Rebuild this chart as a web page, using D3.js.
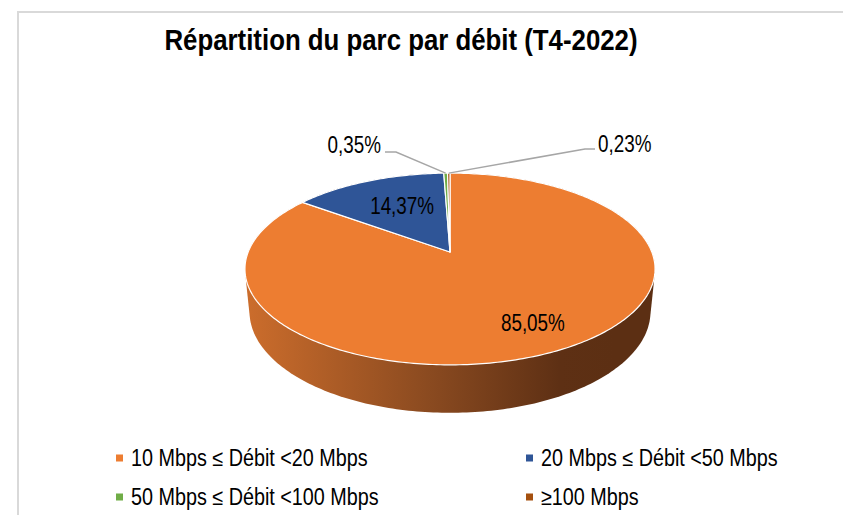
<!DOCTYPE html>
<html>
<head>
<meta charset="utf-8">
<script src="https://cdn.jsdelivr.net/npm/d3@7"></script>
<style>
  html, body { margin: 0; padding: 0; background: #ffffff; }
  svg { display: block; }
  text { font-family: "Liberation Sans Narrow", "Arial Narrow", "Liberation Sans", Arial, sans-serif; }
</style>
</head>
<body>
<svg id="chart" width="843" height="515"></svg>
<script>
// ---- data ----
const title = "Répartition du parc par débit (T4-2022)";
const categories = ["10 Mbps ≤ Débit <20 Mbps", "20 Mbps ≤ Débit <50 Mbps", "50 Mbps ≤ Débit <100 Mbps", "≥100 Mbps"];
const values = [85.05, 14.37, 0.35, 0.23];
const valueLabels = ["85,05%", "14,37%", "0,35%", "0,23%"];
const colors = ["#ED7D31", "#2F5597", "#70AD47", "#A5500F"];

// ---- layout ----
const svg = d3.select("#chart");

// condensed text helper (narrow face emulated by horizontal scaling)
function addText(x, y, str, size, anchor, sx, weight) {
  return svg.append("text")
    .attr("transform", `translate(${x},${y}) scale(${sx},1)`)
    .attr("text-anchor", anchor || "start")
    .attr("font-size", size)
    .attr("font-weight", weight || "normal")
    .attr("fill", "#000")
    .text(str);
}

// chart area border
svg.append("rect").attr("x", 18).attr("y", 12).attr("width", 900).attr("height", 600)
  .attr("fill", "#fff").attr("stroke", "#d9d9d9").attr("stroke-width", 2);

addText(401, 50, title, 29, "middle", 0.89, "bold");

// perspective projection of a unit disk
const cx = 450, cy = 252, F = 1011, dist = 5.01, alpha = 27.4 * Math.PI / 180, thick = 0.24;
const ca = Math.cos(alpha), sa = Math.sin(alpha);
function proj(X, Y, z) { // z = 0 top, -thick bottom
  const depth = dist + Y * ca - z * sa;
  const ys = Y * sa + z * ca;
  return [cx + F * X / depth, cy - F * ys / depth];
}
function rim(theta, r, z) { return proj(r * Math.sin(theta), r * Math.cos(theta), z); }

const pie = d3.pie().sort(null).value(d => d);
const arcs = pie(values);

const defs = svg.append("defs");
const grad = defs.append("linearGradient").attr("id", "side").attr("gradientUnits", "userSpaceOnUse")
  .attr("x1", 245).attr("y1", 0).attr("x2", 615).attr("y2", 0);
grad.append("stop").attr("offset", 0).attr("stop-color", "#cc6d2c");
grad.append("stop").attr("offset", 0.5).attr("stop-color", "#8a4a20");
grad.append("stop").attr("offset", 0.85).attr("stop-color", "#5e3014");
grad.append("stop").attr("offset", 1).attr("stop-color", "#5c2f13");

// side wall = hull of top and bottom rims
const N = 360;
const pts = [];
for (let i = 0; i < N; i++) {
  const t = i / N * 2 * Math.PI;
  pts.push(rim(t, 1, 0));
  pts.push(rim(t, 1, -thick));
}
const hull = d3.polygonHull(pts);
svg.append("path").attr("d", "M" + hull.map(p => p.join(",")).join("L") + "Z")
  .attr("fill", "url(#side)");

// top surface slices
const g = svg.append("g");
arcs.forEach((a, i) => {
  const steps = Math.max(2, Math.ceil((a.endAngle - a.startAngle) / (2 * Math.PI) * 400));
  const p = [proj(0, 0, 0)];
  for (let k = 0; k <= steps; k++) {
    p.push(rim(a.startAngle + (a.endAngle - a.startAngle) * k / steps, 1, 0));
  }
  g.append("path").attr("d", "M" + p.map(q => q.join(",")).join("L") + "Z")
    .attr("fill", colors[i]).attr("stroke", "#ffffff").attr("stroke-width", 1.2)
    .attr("stroke-linejoin", "round");
});

// inside labels
const insideR = [0.76, 0.6];
[0, 1].forEach(i => {
  const a = arcs[i];
  const m = (a.startAngle + a.endAngle) / 2;
  const [x, y] = rim(m, insideR[i], 0);
  addText(x + 4, y + 7, valueLabels[i], 23, "middle", 0.82);
});

// outside labels with leader lines
const outside = [
  { i: 2, elbow: [396, 152], end: [385, 152], tx: 381, ty: 153, anchor: "end" },
  { i: 3, elbow: [585, 149], end: [595, 149], tx: 598, ty: 152, anchor: "start" }
];
outside.forEach(o => {
  const a = arcs[o.i];
  const m = (a.startAngle + a.endAngle) / 2;
  const s = rim(m, 1, 0);
  svg.append("path").attr("d", "M" + s.join(",") + "L" + o.elbow.join(",") + "L" + o.end.join(","))
    .attr("fill", "none").attr("stroke", "#a6a6a6").attr("stroke-width", 1.5);
  addText(o.tx, o.ty, valueLabels[o.i], 23, o.anchor, 0.82);
});

// legend
const legX = [116, 526], legY = [458, 497];
categories.forEach((c, i) => {
  const x = legX[i % 2], y = legY[Math.floor(i / 2)];
  svg.append("rect").attr("x", x).attr("y", y - 3.5).attr("width", 7).attr("height", 7).attr("fill", colors[i]);
  addText(x + 15, y + 8, c, 23, "start", 0.86);
});
</script>
</body>
</html>
